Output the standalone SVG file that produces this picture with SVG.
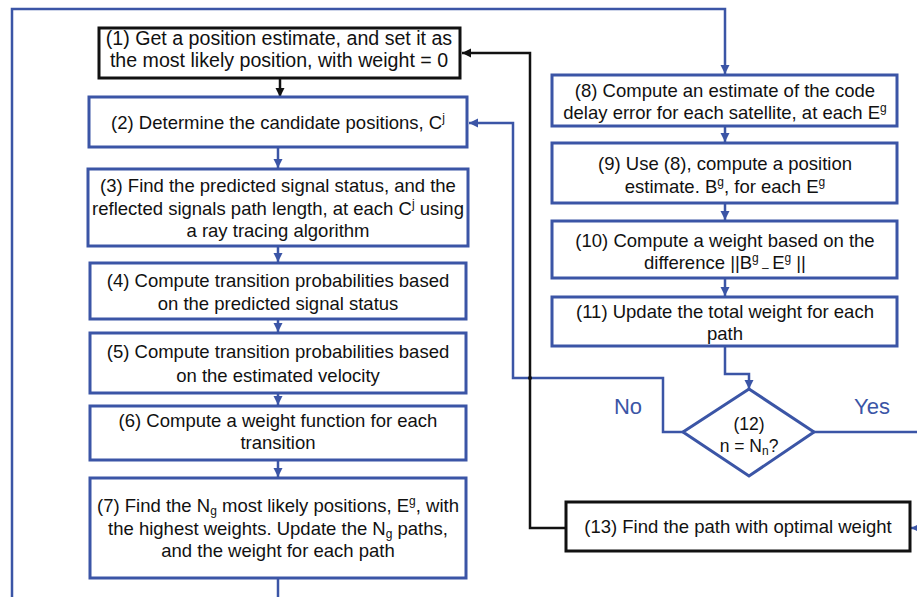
<svg xmlns="http://www.w3.org/2000/svg" width="917" height="597" viewBox="0 0 917 597">
<style>
.bb{fill:#fff;stroke:#3b55a6;stroke-width:3}
.kb{fill:#fff;stroke:#111;stroke-width:3}
.t{font-family:"Liberation Sans",Arial,sans-serif;font-size:18.5px;fill:#111;text-anchor:middle}
.lbl{font-family:"Liberation Sans",Arial,sans-serif;font-size:22px;fill:#3b55a6;text-anchor:middle}
.bl{fill:none;stroke:#3b55a6;stroke-width:2.5}
.kl{fill:none;stroke:#111;stroke-width:2.5}
.sup{font-size:12px}
</style>
<defs>
<marker id="ab" markerWidth="10" markerHeight="10" refX="9" refY="5" orient="auto" markerUnits="userSpaceOnUse"><path d="M0,0.5 L9,5 L0,9.5 Z" fill="#3b55a6"/></marker>
<marker id="ak" markerWidth="10" markerHeight="10" refX="9" refY="5" orient="auto" markerUnits="userSpaceOnUse"><path d="M0,0.5 L9,5 L0,9.5 Z" fill="#111"/></marker>
</defs>
<rect width="917" height="597" fill="#fff"/>
<g id="connectors">
<polyline class="bl" points="12,597 12,9 725,9 725,74" marker-end="url(#ab)"/>
<line class="bl" x1="278" y1="578" x2="278" y2="597"/>
<line class="kl" x1="280" y1="78" x2="280" y2="97" marker-end="url(#ak)"/>
<line class="bl" x1="278" y1="147" x2="278" y2="168" marker-end="url(#ab)"/>
<line class="bl" x1="278" y1="246" x2="278" y2="262" marker-end="url(#ab)"/>
<line class="bl" x1="278" y1="319" x2="278" y2="332" marker-end="url(#ab)"/>
<line class="bl" x1="278" y1="393" x2="278" y2="405" marker-end="url(#ab)"/>
<line class="bl" x1="278" y1="460" x2="278" y2="477" marker-end="url(#ab)"/>
<line class="bl" x1="725" y1="126" x2="725" y2="142" marker-end="url(#ab)"/>
<line class="bl" x1="725" y1="203" x2="725" y2="220" marker-end="url(#ab)"/>
<line class="bl" x1="725" y1="278" x2="725" y2="296" marker-end="url(#ab)"/>
<polyline class="bl" points="725,346 725,374 749,374 749,389" marker-end="url(#ab)"/>
<polyline class="bl" points="683,432 663,432 663,378 513,378 513,123 469,123" marker-end="url(#ab)"/>
<line class="bl" x1="814" y1="432" x2="917" y2="432"/>
<line class="bl" x1="917" y1="528" x2="911" y2="528" marker-end="url(#ab)"/>
<polyline class="kl" points="566,528 530,528 530,53 462,53" marker-end="url(#ak)"/>
<circle cx="530" cy="378" r="2" fill="#111"/>
<text class="lbl" x="628" y="414">No</text>
<text class="lbl" x="872" y="414">Yes</text>
</g>
<g id="n1"><rect class="kb" x="99" y="28" width="361" height="50"/>
<text class="t" x="279" y="45" style="font-size:19.6px">(1) Get a position estimate, and set it as</text>
<text class="t" x="279" y="67" style="font-size:19.6px">the most likely position, with weight = 0</text></g>
<g id="n2"><rect class="bb" x="89" y="97" width="378" height="50"/>
<text class="t" x="278" y="129">(2) Determine the candidate positions, C<tspan class="sup" dy="-7">j</tspan></text></g>
<g id="n3"><rect class="bb" x="88" y="169" width="380" height="77"/>
<text class="t" x="278" y="192">(3) Find the predicted signal status, and the</text>
<text class="t" x="278" y="215">reflected signals path length, at each C<tspan class="sup" dy="-7">j</tspan><tspan dy="7"> using</tspan></text>
<text class="t" x="278" y="237">a ray tracing algorithm</text></g>
<g id="n4"><rect class="bb" x="90" y="263" width="376" height="56"/>
<text class="t" x="278" y="287">(4) Compute transition probabilities based</text>
<text class="t" x="278" y="310">on the predicted signal status</text></g>
<g id="n5"><rect class="bb" x="90" y="333" width="376" height="60"/>
<text class="t" x="278" y="358">(5) Compute transition probabilities based</text>
<text class="t" x="278" y="382">on the estimated velocity</text></g>
<g id="n6"><rect class="bb" x="90" y="406" width="376" height="54"/>
<text class="t" x="278" y="427">(6) Compute a weight function for each</text>
<text class="t" x="278" y="449">transition</text></g>
<g id="n7"><rect class="bb" x="90" y="478" width="376" height="100"/>
<text class="t" x="278" y="512">(7) Find the N<tspan class="sup" dy="3">g</tspan><tspan dy="-3"> most likely positions, E</tspan><tspan class="sup" dy="-7">g</tspan><tspan dy="7">, with</tspan></text>
<text class="t" x="278" y="535">the highest weights. Update the N<tspan class="sup" dy="3">g</tspan><tspan dy="-3"> paths,</tspan></text>
<text class="t" x="278" y="557">and the weight for each path</text></g>
<g id="n8"><rect class="bb" x="552" y="75" width="345" height="51"/>
<text class="t" x="725" y="97">(8)  Compute an estimate of the code</text>
<text class="t" x="725" y="119">delay error for each satellite, at each E<tspan class="sup" dy="-7">g</tspan></text></g>
<g id="n9"><rect class="bb" x="552" y="143" width="345" height="60"/>
<text class="t" x="725" y="170">(9) Use  (8), compute a position</text>
<text class="t" x="725" y="193">estimate. B<tspan class="sup" dy="-7">g</tspan><tspan dy="7">, for each E</tspan><tspan class="sup" dy="-7">g</tspan></text></g>
<g id="n10"><rect class="bb" x="552" y="221" width="345" height="57"/>
<text class="t" x="725" y="247">(10) Compute a weight based  on the</text>
<text class="t" x="725" y="269">difference ||B<tspan class="sup" dy="-7">g</tspan><tspan class="sup" dy="10"> – </tspan><tspan dy="-3">E</tspan><tspan class="sup" dy="-7">g</tspan><tspan dy="7"> ||</tspan></text></g>
<g id="n11"><rect class="bb" x="552" y="297" width="345" height="49"/>
<text class="t" x="725" y="318">(11) Update the total weight for each</text>
<text class="t" x="725" y="340">path</text></g>
<g id="n12"><polygon class="bb" points="749,389 814,432 749,476 683,432"/>
<text class="t" x="749" y="430" style="font-size:17.5px">(12)</text>
<text class="t" x="749" y="452" style="font-size:17.5px">n = N<tspan class="sup" dy="3">n</tspan><tspan dy="-3">?</tspan></text></g>
<g id="n13"><rect class="kb" x="566" y="502" width="344" height="49"/>
<text class="t" x="738" y="533">(13) Find the path with optimal weight</text></g>
</svg>
